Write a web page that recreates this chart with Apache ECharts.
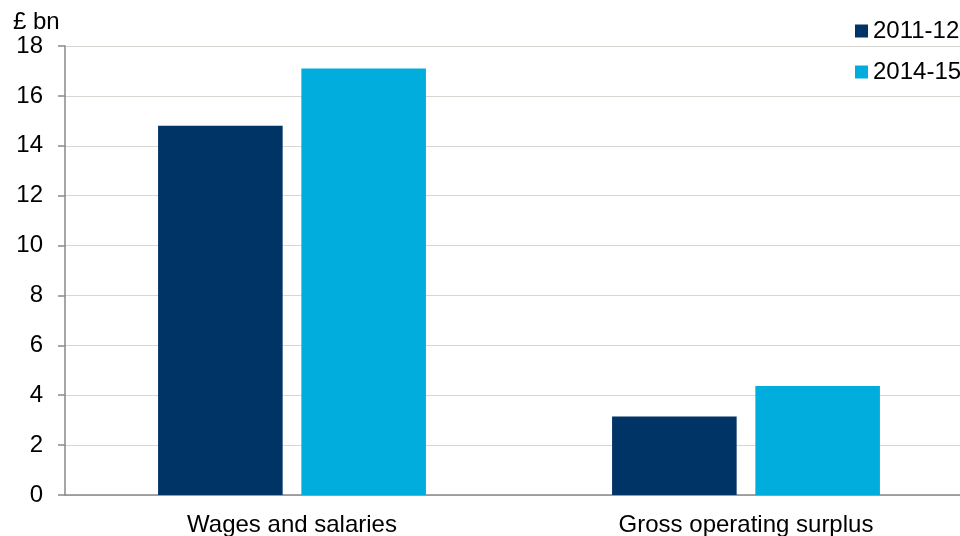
<!DOCTYPE html>
<html>
<head>
<meta charset="utf-8">
<script src="https://cdn.jsdelivr.net/npm/echarts@6/dist/echarts.min.js"></script>
<style>
  html, body { margin: 0; padding: 0; background: #fff; }
  #chart { width: 960px; height: 536px; }
</style>
</head>
<body>
<div id="chart"></div>
<script>
// Income components, £ bn
const categories = ['Wages and salaries', 'Gross operating surplus'];
const seriesNames = ['2011-12', '2014-15'];
const values2011 = [14.8, 3.15];
const values2014 = [17.1, 4.37];
const yTicks = { min: 0, max: 18, interval: 2 };

const FONT = 'Liberation Sans, Arial, sans-serif';
const colors = ['#003366', '#00ADDC'];

const chart = echarts.init(document.getElementById('chart'), null, { renderer: 'canvas' });
chart.setOption({
  animation: false,
  textStyle: { fontFamily: FONT },
  grid: {
    left: 65, top: 46, width: 908, bottom: 41,
    containLabel: false,
    outerBoundsMode: 'none'
  },
  legend: {
    orient: 'vertical',
    left: 855,
    top: 19,
    padding: 0,
    itemWidth: 13,
    itemHeight: 13,
    itemGap: 17,
    icon: 'rect',
    textStyle: { fontFamily: FONT, fontSize: 24, color: '#000' },
    data: seriesNames
  },
  graphic: [{
    type: 'text',
    left: 13,
    top: 10,
    style: { text: '£ bn', font: '24px ' + FONT, fill: '#000' }
  }],
  xAxis: {
    type: 'category',
    data: categories,
    axisLine: { lineStyle: { color: '#898989', width: 1.5 } },
    axisTick: { show: false },
    axisLabel: { fontFamily: FONT, fontSize: 24, color: '#000', margin: 18 }
  },
  yAxis: {
    type: 'value',
    min: yTicks.min,
    max: yTicks.max,
    interval: yTicks.interval,
    axisLine: { show: true, lineStyle: { color: '#898989', width: 1.5 } },
    axisTick: { show: true, length: 7, lineStyle: { color: '#898989', width: 1.5 } },
    axisLabel: { fontFamily: FONT, fontSize: 24, color: '#000', margin: 22 },
    splitLine: { lineStyle: { color: '#d9d6d2', width: 1.2 } }
  },
  series: [
    {
      name: seriesNames[0],
      type: 'bar',
      data: values2011,
      itemStyle: { color: colors[0] },
      barGap: '15%',
      barCategoryGap: '41%'
    },
    {
      name: seriesNames[1],
      type: 'bar',
      data: values2014,
      itemStyle: { color: colors[1] },
      barGap: '15%',
      barCategoryGap: '41%'
    }
  ]
});
</script>
</body>
</html>
